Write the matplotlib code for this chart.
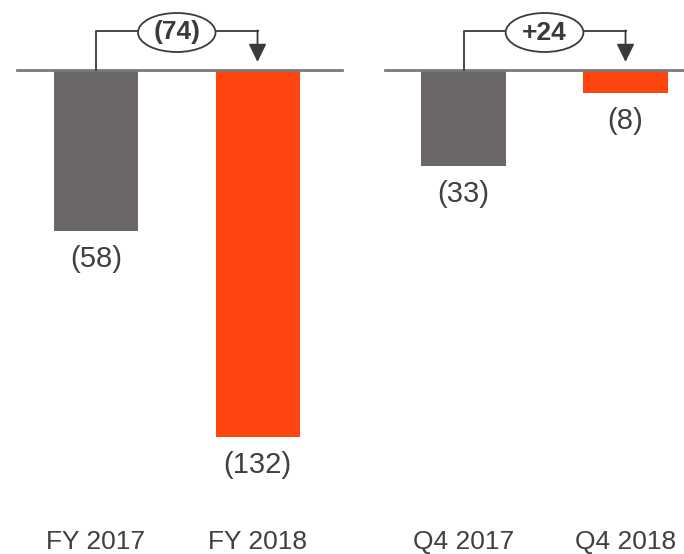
import matplotlib.pyplot as plt
from matplotlib.patches import Ellipse
from matplotlib.transforms import blended_transform_factory

# data
fy_labels = ['FY 2017', 'FY 2018']
fy_values = [-58, -132]
fy_delta = '(74)'

q4_labels = ['Q4 2017', 'Q4 2018']
q4_values = [-33, -8]
q4_delta = '+24'

GREY = '#6b6767'
ORANGE = '#ff4611'
DARK = '#3a3a3a'
plt.rcParams['font.family'] = ['Liberation Sans', 'DejaVu Sans']

AX_H = 448  # axes height in pixels


def fmt(v):
    return f'({abs(v)})' if v < 0 else f'{v}'


def panel(ax, labels, values, delta, xlim, ymin):
    x = list(range(len(values)))
    ax.bar(x, values, width=0.52, color=[GREY, ORANGE])
    ax.set_xlim(*xlim)
    ax.set_ylim(ymin, 0)
    ax.axhline(0, color='#7a7a7a', lw=2, clip_on=False)
    ax.axis('off')
    u = -ymin / AX_H  # data units per pixel

    # value labels below bars
    for xi, v in zip(x, values):
        ax.annotate(fmt(v), (xi, v), xytext=(0, -10), textcoords='offset points',
                    ha='center', va='top', fontsize=21, color='#404040')

    # category labels at bottom
    tr = blended_transform_factory(ax.transData, ax.figure.transFigure)
    for xi, lab in zip(x, labels):
        ax.text(xi, 5 / 554, lab, transform=tr, ha='center', va='baseline',
                fontsize=19, color='#404040')

    # change bracket
    top = 39 * u
    ax.plot([0, 0, 1], [0, top, top], color=DARK, lw=1.3, clip_on=False)
    ax.annotate('', xy=(1, 8 * u), xytext=(1, top + 0.6 * u),
                arrowprops=dict(arrowstyle='-|>,head_width=0.27,head_length=0.55',
                                color=DARK, lw=1.3, mutation_scale=20,
                                shrinkA=0, shrinkB=0),
                annotation_clip=False)
    ax.add_patch(Ellipse((0.5, top - 1.5 * u), 0.48, 39 * u, facecolor='white',
                         edgecolor=DARK, lw=1.3, clip_on=False, zorder=3))
    ax.text(0.5, top - 1.5 * u, delta, ha='center', va='center', fontsize=19,
            fontweight='bold', color=DARK, zorder=4, clip_on=False)


fig = plt.figure(figsize=(6.84, 5.54), dpi=100)
bottom = 36 / 554
height = AX_H / 554
ax1 = fig.add_axes([17 / 684, bottom, 325 / 684, height])
ax2 = fig.add_axes([385 / 684, bottom, 299 / 684, height])

panel(ax1, fy_labels, fy_values, fy_delta, (-0.489, 1.523), -161)
panel(ax2, q4_labels, q4_values, q4_delta, (-0.485, 1.361), -154)

fig.savefig('out.png', dpi=100, facecolor='white')
